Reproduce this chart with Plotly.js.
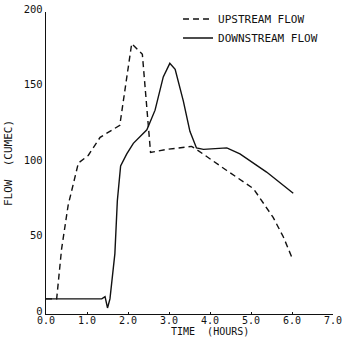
<!DOCTYPE html>
<html><head><meta charset="utf-8">
<script src="https://cdn.plot.ly/plotly-3.0.1.min.js"></script>
<style>html,body{margin:0;padding:0;background:#fff;}#chart{width:345px;height:338px;}</style>
</head><body><div id="chart"></div>
<script>
const upTime = [0, 0.26, 0.38, 0.54, 0.79, 1.03, 1.32, 1.56, 1.80, 2.09, 2.35, 2.55, 2.94, 3.55, 3.67, 4.41, 5.06, 5.54, 5.79, 6.02];
const upFlow = [10, 10, 43, 72, 100, 105, 117, 121, 125, 179, 172, 107, 109, 111, 109, 95, 83, 64, 51, 36];
const downTime = [0, 1.36, 1.44, 1.50, 1.56, 1.68, 1.74, 1.82, 1.97, 2.13, 2.46, 2.66, 2.86, 3.02, 3.15, 3.35, 3.51, 3.67, 3.84, 4.41, 4.73, 5.38, 6.03];
const downFlow = [10, 10, 11.5, 4, 10, 40, 75, 98, 106, 113, 122, 135, 157, 166, 162, 141, 121, 110, 109, 110, 106, 94, 80];
const xTicks = [0, 1, 2, 3, 4, 5, 6, 7];
const yTicks = [0, 50, 100, 150, 200];
const names = ['UPSTREAM FLOW', 'DOWNSTREAM FLOW'];
const xTitle = 'TIME  (HOURS)';
const yTitle = 'FLOW  (CUMEC)';

const fam = 'DejaVu Sans Mono, monospace';
const f = (s) => ({family: fam, size: s, color: '#111'});
const traces = [
  {x: upTime, y: upFlow, name: names[0], mode: 'lines', line: {color: '#111', width: 1.4, dash: '6px,4px'}},
  {x: downTime, y: downFlow, name: names[1], mode: 'lines', line: {color: '#111', width: 1.4}}
];
const layout = {
  width: 345, height: 338,
  margin: {l: 46, r: 12, t: 12, b: 24, pad: 0, autoexpand: false},
  paper_bgcolor: '#fff', plot_bgcolor: '#fff',
  font: f(11),
  showlegend: true,
  legend: {x: 0.46, y: 1.025, xanchor: 'left', yanchor: 'top', bgcolor: 'rgba(0,0,0,0)', font: f(11), tracegroupgap: 0, itemwidth: 30},
  xaxis: {range: [0, 7], tickvals: xTicks, ticktext: xTicks.map(v => v.toFixed(1)), showgrid: false, zeroline: false,
    showline: true, linecolor: '#111', linewidth: 1.2, ticks: 'inside', ticklen: 2, tickcolor: '#111',
    ticklabelstandoff: -3, tickfont: f(10), automargin: false},
  yaxis: {range: [0, 200], tickvals: yTicks, showgrid: false, zeroline: false,
    showline: true, linecolor: '#111', linewidth: 1.2, ticks: '',
    tickfont: f(10.5), automargin: false, ticklabelshift: -3,
    title: {text: yTitle, font: f(11), standoff: 8}},
  annotations: [
    {xref: 'paper', yref: 'paper', x: 0.571, y: -0.058, xanchor: 'center', yanchor: 'middle', text: xTitle, showarrow: false, font: f(10)}
  ]
};
Plotly.newPlot('chart', traces, layout, {displayModeBar: false, staticPlot: true});
</script></body></html>
